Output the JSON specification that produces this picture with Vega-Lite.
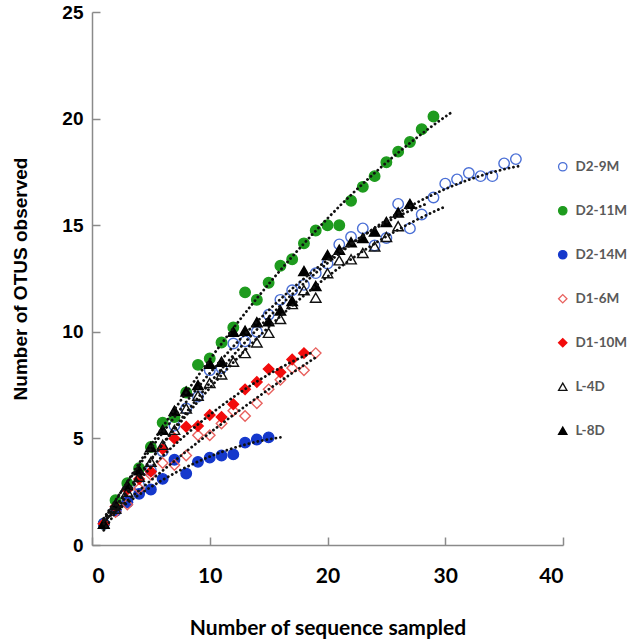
{
  "$schema": "https://vega.github.io/schema/vega-lite/v6.json",
  "width": 471,
  "height": 533,
  "autosize": "none",
  "padding": {"left": 92, "top": 12, "right": 70, "bottom": 95},
  "background": "white",
  "config": {
    "view": {"stroke": null},
    "axis": {
      "grid": false,
      "domainColor": "#8a8a8a",
      "domainWidth": 1.5,
      "tickColor": "#8a8a8a",
      "tickWidth": 1.5,
      "tickSize": -8,
      "labelColor": "black",
      "titleColor": "black"
    }
  },
  "datasets": {
    "otus": [
      {"series": "D2-9M", "x": 1, "y": 1}, {"series": "D2-9M", "x": 2, "y": 1.6}, {"series": "D2-9M", "x": 3, "y": 2.0}, {"series": "D2-9M", "x": 4, "y": 2.8}, {"series": "D2-9M", "x": 5, "y": 3.5}, {"series": "D2-9M", "x": 6, "y": 4.4}, {"series": "D2-9M", "x": 7, "y": 5.6}, {"series": "D2-9M", "x": 8, "y": 6.4}, {"series": "D2-9M", "x": 9, "y": 6.96}, {"series": "D2-9M", "x": 10, "y": 8.2}, {"series": "D2-9M", "x": 11, "y": 8.3}, {"series": "D2-9M", "x": 12, "y": 9.45}, {"series": "D2-9M", "x": 13, "y": 9.55}, {"series": "D2-9M", "x": 14, "y": 10.0}, {"series": "D2-9M", "x": 15, "y": 10.8}, {"series": "D2-9M", "x": 16, "y": 11.5}, {"series": "D2-9M", "x": 17, "y": 11.95}, {"series": "D2-9M", "x": 18, "y": 12.2}, {"series": "D2-9M", "x": 19, "y": 12.75}, {"series": "D2-9M", "x": 20, "y": 13.2}, {"series": "D2-9M", "x": 21, "y": 14.1}, {"series": "D2-9M", "x": 22, "y": 14.45}, {"series": "D2-9M", "x": 23, "y": 14.85}, {"series": "D2-9M", "x": 24, "y": 14.05}, {"series": "D2-9M", "x": 25, "y": 14.4}, {"series": "D2-9M", "x": 26, "y": 16.0}, {"series": "D2-9M", "x": 27, "y": 14.85}, {"series": "D2-9M", "x": 28, "y": 15.5}, {"series": "D2-9M", "x": 29, "y": 16.3}, {"series": "D2-9M", "x": 30, "y": 16.95}, {"series": "D2-9M", "x": 31, "y": 17.15}, {"series": "D2-9M", "x": 32, "y": 17.45}, {"series": "D2-9M", "x": 33, "y": 17.3}, {"series": "D2-9M", "x": 34, "y": 17.3}, {"series": "D2-9M", "x": 35, "y": 17.9}, {"series": "D2-9M", "x": 36, "y": 18.1},
      {"series": "D2-11M", "x": 1, "y": 1}, {"series": "D2-11M", "x": 2, "y": 2.1}, {"series": "D2-11M", "x": 3, "y": 2.9}, {"series": "D2-11M", "x": 4, "y": 3.6}, {"series": "D2-11M", "x": 5, "y": 4.6}, {"series": "D2-11M", "x": 6, "y": 5.74}, {"series": "D2-11M", "x": 7, "y": 6.0}, {"series": "D2-11M", "x": 8, "y": 7.15}, {"series": "D2-11M", "x": 9, "y": 8.45}, {"series": "D2-11M", "x": 10, "y": 8.75}, {"series": "D2-11M", "x": 11, "y": 9.5}, {"series": "D2-11M", "x": 12, "y": 10.2}, {"series": "D2-11M", "x": 13, "y": 11.85}, {"series": "D2-11M", "x": 14, "y": 11.5}, {"series": "D2-11M", "x": 15, "y": 12.3}, {"series": "D2-11M", "x": 16, "y": 13.1}, {"series": "D2-11M", "x": 17, "y": 13.4}, {"series": "D2-11M", "x": 18, "y": 14.15}, {"series": "D2-11M", "x": 19, "y": 14.75}, {"series": "D2-11M", "x": 20, "y": 15.0}, {"series": "D2-11M", "x": 21, "y": 15.0}, {"series": "D2-11M", "x": 22, "y": 16.15}, {"series": "D2-11M", "x": 23, "y": 16.8}, {"series": "D2-11M", "x": 24, "y": 17.3}, {"series": "D2-11M", "x": 25, "y": 17.95}, {"series": "D2-11M", "x": 26, "y": 18.45}, {"series": "D2-11M", "x": 27, "y": 18.9}, {"series": "D2-11M", "x": 28, "y": 19.5}, {"series": "D2-11M", "x": 29, "y": 20.1},
      {"series": "D2-14M", "x": 1, "y": 1}, {"series": "D2-14M", "x": 2, "y": 1.6}, {"series": "D2-14M", "x": 3, "y": 2.0}, {"series": "D2-14M", "x": 4, "y": 2.4}, {"series": "D2-14M", "x": 5, "y": 2.6}, {"series": "D2-14M", "x": 6, "y": 3.1}, {"series": "D2-14M", "x": 7, "y": 4.0}, {"series": "D2-14M", "x": 8, "y": 3.35}, {"series": "D2-14M", "x": 9, "y": 3.9}, {"series": "D2-14M", "x": 10, "y": 4.1}, {"series": "D2-14M", "x": 11, "y": 4.2}, {"series": "D2-14M", "x": 12, "y": 4.25}, {"series": "D2-14M", "x": 13, "y": 4.8}, {"series": "D2-14M", "x": 14, "y": 4.95}, {"series": "D2-14M", "x": 15, "y": 5.05},
      {"series": "D1-6M", "x": 1, "y": 1}, {"series": "D1-6M", "x": 2, "y": 1.55}, {"series": "D1-6M", "x": 3, "y": 1.9}, {"series": "D1-6M", "x": 4, "y": 2.65}, {"series": "D1-6M", "x": 5, "y": 3.3}, {"series": "D1-6M", "x": 6, "y": 3.85}, {"series": "D1-6M", "x": 7, "y": 3.75}, {"series": "D1-6M", "x": 8, "y": 4.2}, {"series": "D1-6M", "x": 9, "y": 5.15}, {"series": "D1-6M", "x": 10, "y": 5.15}, {"series": "D1-6M", "x": 11, "y": 5.7}, {"series": "D1-6M", "x": 12, "y": 6.3}, {"series": "D1-6M", "x": 13, "y": 6.05}, {"series": "D1-6M", "x": 14, "y": 6.65}, {"series": "D1-6M", "x": 15, "y": 7.3}, {"series": "D1-6M", "x": 16, "y": 7.75}, {"series": "D1-6M", "x": 17, "y": 8.3}, {"series": "D1-6M", "x": 18, "y": 8.2}, {"series": "D1-6M", "x": 19, "y": 9.0},
      {"series": "D1-10M", "x": 1, "y": 1}, {"series": "D1-10M", "x": 2, "y": 1.8}, {"series": "D1-10M", "x": 3, "y": 2.6}, {"series": "D1-10M", "x": 4, "y": 3.1}, {"series": "D1-10M", "x": 5, "y": 3.45}, {"series": "D1-10M", "x": 6, "y": 4.5}, {"series": "D1-10M", "x": 7, "y": 5.0}, {"series": "D1-10M", "x": 8, "y": 5.55}, {"series": "D1-10M", "x": 9, "y": 5.58}, {"series": "D1-10M", "x": 10, "y": 6.1}, {"series": "D1-10M", "x": 11, "y": 6.0}, {"series": "D1-10M", "x": 12, "y": 6.6}, {"series": "D1-10M", "x": 13, "y": 7.3}, {"series": "D1-10M", "x": 14, "y": 7.65}, {"series": "D1-10M", "x": 15, "y": 8.25}, {"series": "D1-10M", "x": 16, "y": 8.1}, {"series": "D1-10M", "x": 17, "y": 8.7}, {"series": "D1-10M", "x": 18, "y": 9.0},
      {"series": "L-4D", "x": 1, "y": 1}, {"series": "L-4D", "x": 2, "y": 1.7}, {"series": "L-4D", "x": 3, "y": 2.5}, {"series": "L-4D", "x": 4, "y": 3.2}, {"series": "L-4D", "x": 5, "y": 3.9}, {"series": "L-4D", "x": 6, "y": 4.7}, {"series": "L-4D", "x": 7, "y": 5.4}, {"series": "L-4D", "x": 8, "y": 6.4}, {"series": "L-4D", "x": 9, "y": 7.0}, {"series": "L-4D", "x": 10, "y": 7.6}, {"series": "L-4D", "x": 11, "y": 8.0}, {"series": "L-4D", "x": 12, "y": 8.6}, {"series": "L-4D", "x": 13, "y": 9.0}, {"series": "L-4D", "x": 14, "y": 9.5}, {"series": "L-4D", "x": 15, "y": 9.95}, {"series": "L-4D", "x": 16, "y": 10.6}, {"series": "L-4D", "x": 17, "y": 11.3}, {"series": "L-4D", "x": 18, "y": 11.95}, {"series": "L-4D", "x": 19, "y": 11.6}, {"series": "L-4D", "x": 20, "y": 12.75}, {"series": "L-4D", "x": 21, "y": 13.35}, {"series": "L-4D", "x": 22, "y": 13.4}, {"series": "L-4D", "x": 23, "y": 13.7}, {"series": "L-4D", "x": 24, "y": 14.0}, {"series": "L-4D", "x": 25, "y": 14.45}, {"series": "L-4D", "x": 26, "y": 14.95},
      {"series": "L-8D", "x": 1, "y": 1}, {"series": "L-8D", "x": 2, "y": 1.9}, {"series": "L-8D", "x": 3, "y": 2.8}, {"series": "L-8D", "x": 4, "y": 3.5}, {"series": "L-8D", "x": 5, "y": 4.6}, {"series": "L-8D", "x": 6, "y": 5.4}, {"series": "L-8D", "x": 7, "y": 6.3}, {"series": "L-8D", "x": 8, "y": 7.2}, {"series": "L-8D", "x": 9, "y": 7.5}, {"series": "L-8D", "x": 10, "y": 8.5}, {"series": "L-8D", "x": 11, "y": 8.6}, {"series": "L-8D", "x": 12, "y": 10.0}, {"series": "L-8D", "x": 13, "y": 10.05}, {"series": "L-8D", "x": 14, "y": 10.45}, {"series": "L-8D", "x": 15, "y": 10.5}, {"series": "L-8D", "x": 16, "y": 11.0}, {"series": "L-8D", "x": 17, "y": 11.45}, {"series": "L-8D", "x": 18, "y": 12.85}, {"series": "L-8D", "x": 19, "y": 12.15}, {"series": "L-8D", "x": 20, "y": 13.6}, {"series": "L-8D", "x": 21, "y": 13.85}, {"series": "L-8D", "x": 22, "y": 14.2}, {"series": "L-8D", "x": 23, "y": 14.4}, {"series": "L-8D", "x": 24, "y": 14.7}, {"series": "L-8D", "x": 25, "y": 15.15}, {"series": "L-8D", "x": 26, "y": 15.6}, {"series": "L-8D", "x": 27, "y": 16.0}
    ]
  },
  "data": {"name": "otus"},
  "encoding": {
    "x": {
      "field": "x", "type": "quantitative",
      "scale": {"domain": [0, 40], "nice": false},
      "axis": {
        "values": [0, 10, 20, 30, 40],
        "title": "Number of sequence sampled",
        "labelFont": "Lato", "labelFontWeight": "bold", "labelFontSize": 21,
        "labelPadding": 28,
        "titleFont": "Lato", "titleFontWeight": "bold", "titleFontSize": 21,
        "titlePadding": 31
      }
    },
    "y": {
      "field": "y", "type": "quantitative",
      "scale": {"domain": [0, 25], "nice": false},
      "axis": {
        "values": [0, 5, 10, 15, 20, 25],
        "title": "Number of OTUS observed",
        "labelFont": "Liberation Sans", "labelFontWeight": "bold", "labelFontSize": 19,
        "labelPadding": 17,
        "titleFont": "Liberation Sans", "titleFontWeight": "bold", "titleFontSize": 19,
        "titlePadding": 31
      }
    }
  },
  "layer": [
    {
      "mark": {"type": "point", "size": 110, "strokeWidth": 1.4, "opacity": 1},
      "encoding": {
        "shape": {
          "field": "series", "type": "nominal",
          "scale": {
            "domain": ["D2-9M", "D2-11M", "D2-14M", "D1-6M", "D1-10M", "L-4D", "L-8D"],
            "range": ["circle", "circle", "circle", "diamond", "diamond", "triangle-up", "triangle-up"]
          },
          "legend": {
            "title": null,
            "orient": "none", "legendX": 464, "legendY": 148,
            "symbolSize": 70, "symbolStrokeWidth": 1.3,
            "labelFont": "Lato", "labelFontWeight": "bold", "labelFontSize": 13.5, "labelColor": "#595959",
            "labelOffset": 6, "rowPadding": 29
          }
        },
        "stroke": {
          "field": "series", "type": "nominal",
          "scale": {
            "domain": ["D2-9M", "D2-11M", "D2-14M", "D1-6M", "D1-10M", "L-4D", "L-8D"],
            "range": ["#4a6fd6", "#1e9b1e", "#1538cc", "#e8615e", "#f20c0c", "#111111", "#000000"]
          }
        },
        "fill": {
          "field": "series", "type": "nominal",
          "scale": {
            "domain": ["D2-9M", "D2-11M", "D2-14M", "D1-6M", "D1-10M", "L-4D", "L-8D"],
            "range": ["transparent", "#1e9b1e", "#1538cc", "transparent", "#f20c0c", "transparent", "#000000"]
          }
        }
      }
    },
    {
      "transform": [{"filter": "datum.series == 'D2-11M'"}, {"regression": "y", "on": "x", "method": "poly", "order": 2, "extent": [1, 30.6]}],
      "mark": {"type": "line", "color": "#111111", "strokeDash": [0.1, 4.5], "strokeCap": "round", "strokeWidth": 2.8}
    },
    {
      "transform": [{"filter": "datum.series == 'D2-9M'"}, {"regression": "y", "on": "x", "method": "poly", "order": 2, "extent": [1, 36.2]}],
      "mark": {"type": "line", "color": "#111111", "strokeDash": [0.1, 4.5], "strokeCap": "round", "strokeWidth": 2.8}
    },
    {
      "transform": [{"filter": "datum.series == 'D2-14M'"}, {"regression": "y", "on": "x", "method": "poly", "order": 2, "extent": [1, 16]}],
      "mark": {"type": "line", "color": "#111111", "strokeDash": [0.1, 4.5], "strokeCap": "round", "strokeWidth": 2.8}
    },
    {
      "transform": [{"filter": "datum.series == 'D1-6M'"}, {"regression": "y", "on": "x", "method": "poly", "order": 2, "extent": [1, 19.2]}],
      "mark": {"type": "line", "color": "#111111", "strokeDash": [0.1, 4.5], "strokeCap": "round", "strokeWidth": 2.8}
    },
    {
      "transform": [{"filter": "datum.series == 'D1-10M'"}, {"regression": "y", "on": "x", "method": "poly", "order": 2, "extent": [1, 18.7]}],
      "mark": {"type": "line", "color": "#111111", "strokeDash": [0.1, 4.5], "strokeCap": "round", "strokeWidth": 2.8}
    },
    {
      "transform": [{"filter": "datum.series == 'L-4D'"}, {"regression": "y", "on": "x", "method": "poly", "order": 2, "extent": [1, 30]}],
      "mark": {"type": "line", "color": "#111111", "strokeDash": [0.1, 4.5], "strokeCap": "round", "strokeWidth": 2.8}
    },
    {
      "transform": [{"filter": "datum.series == 'L-8D'"}, {"regression": "y", "on": "x", "method": "poly", "order": 2, "extent": [1, 28.5]}],
      "mark": {"type": "line", "color": "#111111", "strokeDash": [0.1, 4.5], "strokeCap": "round", "strokeWidth": 2.8}
    }
  ]
}
